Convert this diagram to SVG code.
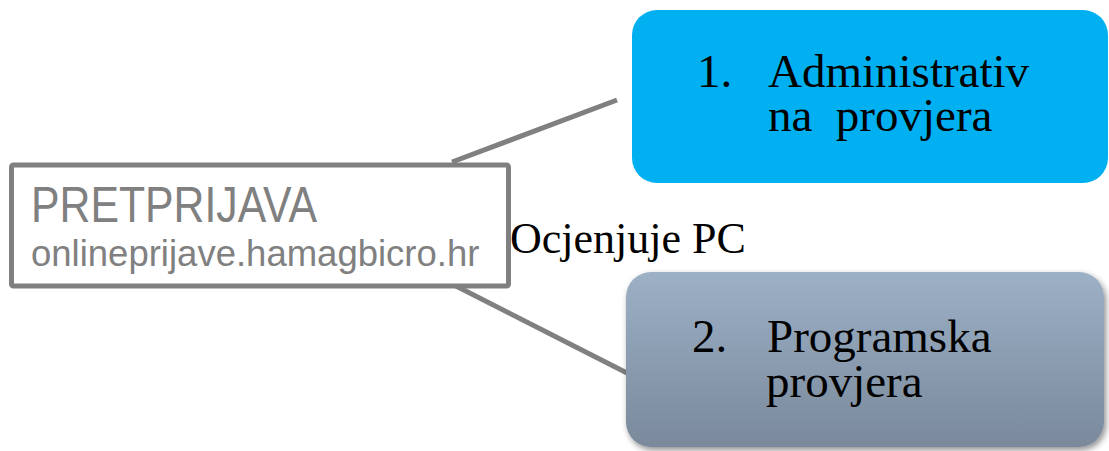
<svg xmlns="http://www.w3.org/2000/svg" width="1109" height="451" viewBox="0 0 1109 451">
<style>
.conn{stroke:#808080;stroke-width:5;fill:none}
.serif{font-family:"Liberation Serif","Times New Roman",serif;fill:#000}
.sans{font-family:"Liberation Sans",Arial,sans-serif;fill:#808080}
</style>
<defs>
<linearGradient id="gGray" x1="0" y1="0" x2="0" y2="1">
<stop offset="0" stop-color="#9CB0C6"/>
<stop offset="1" stop-color="#7A899B"/>
</linearGradient>
<filter id="shadow" x="-10%" y="-10%" width="120%" height="130%">
<feGaussianBlur in="SourceAlpha" stdDeviation="3"/>
<feOffset dx="2" dy="3" result="b"/>
<feComponentTransfer><feFuncA type="linear" slope="0.45"/></feComponentTransfer>
<feMerge><feMergeNode/><feMergeNode in="SourceGraphic"/></feMerge>
</filter>
</defs>
<rect width="1109" height="451" fill="#ffffff"/>
<g id="connectors">
<line class="conn" x1="452" y1="162" x2="617" y2="100"/>
<line class="conn" x1="452" y1="284" x2="627" y2="373"/>
</g>
<g id="node-pretprijava">
<rect x="11.5" y="165" width="497" height="121" rx="2" fill="#ffffff" stroke="#808080" stroke-width="5"/>
<text class="sans"><tspan x="31" y="222" font-size="50" textLength="286" lengthAdjust="spacingAndGlyphs">PRETPRIJAVA</tspan><tspan x="31" y="266" font-size="36.5">onlineprijave.hamagbicro.hr</tspan></text>
</g>
<g id="label-ocjenjuje">
<text class="serif" x="510" y="253" font-size="44">Ocjenjuje PC</text>
</g>
<g id="node-admin">
<rect x="632" y="10" width="476" height="173" rx="25" fill="#00B0F0"/>
<text class="serif" font-size="47" xml:space="preserve"><tspan x="697" y="87">1.</tspan><tspan x="768" y="87">Administrativ</tspan><tspan x="768" y="131">na  provjera</tspan></text>
</g>
<g id="node-program">
<rect x="626" y="272" width="478" height="175" rx="25" fill="url(#gGray)" filter="url(#shadow)"/>
<text class="serif" font-size="47"><tspan x="692" y="352">2.</tspan><tspan x="767" y="352">Programska</tspan><tspan x="766" y="397">provjera</tspan></text>
</g>
</svg>
